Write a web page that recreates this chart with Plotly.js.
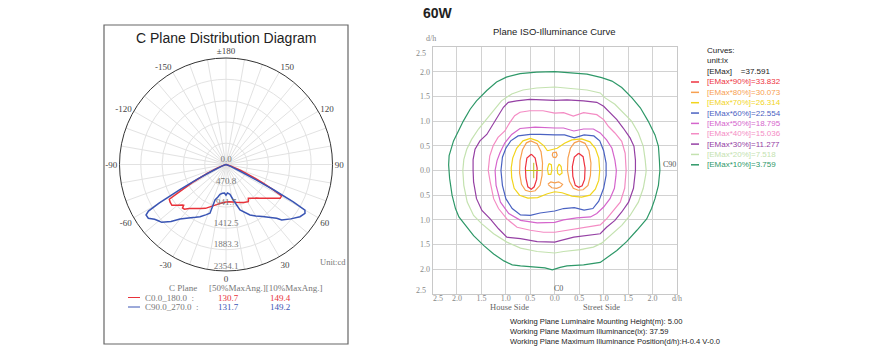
<!DOCTYPE html>
<html><head><meta charset="utf-8">
<script src="https://cdn.plot.ly/plotly-3.0.1.min.js"></script>
<style>html,body{margin:0;padding:0;background:#fff}#chart{width:894px;height:364px}</style>
</head><body><div id="chart"></div>
<script>
// ---------- Polar (C plane) data ----------
const gammaC0 = [-90,-80,-72,-68,-65,-62,-60,-58.5,-56,-53,-50,-47,-46,-45,-43,-40,-35,-30,-25,-20,-15,-10,-5,0,5,10,15,20,25,31,33.5,38,42,45,50,55,58,60.5,62,63.5,65,68,72,78,90];
const intensityC0 = [0,0,60,200,450,800,1120,1470,1490,1497,1400,1315,1300,1360,1350,1270,1190,1120,1070,990,930,880,850,830,825,840,865,895,925,958,895,950,1000,1056,1162,1303,1410,1410,1150,900,650,350,120,20,0];
const gammaC90 = [-90,-80,-70,-65,-63,-61.5,-60,-59,-57.7,-55.3,-52.5,-50.3,-48,-44,-40.2,-35,-30,-26.5,-22,-18.2,-17.2,-14,-11.4,-7,-3,0,3,7.6,11.6,17.1,25.4,30,35,40,43.3,45.1,50,54.8,58.3,60,61,62,63,65,70,80,90];
const intensityC90 = [0,0,60,300,700,1160,1700,2000,2091,2089,1990,1945,1911,1750,1576,1444,1347,1288,1200,1135,821,740,672,640,632,680,630,665,801,1052,1236,1315,1403,1530,1634,1738,1870,2001,2052,2015,1700,1200,700,300,60,0,0];
const radialTicks = [0,470.8,941.7,1412.5,1883.3,2354.1];
const radialLabels = ['0.0','470.8','941.7','1412.5','1883.3','2354.1'];
const angTickVals = [];
for (let a=0;a<360;a+=10) angTickVals.push(a);
const angLabelMap = {'0':'0','30':'30','60':'60','90':'90','120':'120','150':'150','180':'±180','210':'-150','240':'-120','270':'-90','300':'-60','330':'-30'};
const planeNames = ['C0.0_180.0  :','C90.0_270.0  :'];
const planeColors = ['#e8323a','#3a55b4'];
const halfMaxAng = ['130.7','131.7'];
const tenthMaxAng = ['149.4','149.2'];

// ---------- ISO-illuminance data (d/h units) ----------
const levelNames = ['[EMax*90%]=33.832','[EMax*80%]=30.073','[EMax*70%]=26.314','[EMax*60%]=22.554','[EMax*50%]=18.795','[EMax*40%]=15.036','[EMax*30%]=11.277','[EMax*20%]=7.518','[EMax*10%]=3.759'];
const levelColors = ['#ee3340','#f7a050','#f2d41c','#4a62c2','#d565cc','#f48cc4','#9540a4','#c4e2b0','#2e9868'];
const xTickVals = [-2,-1.5,-1,-0.5,0,0.5,1,1.5,2,2.5];
const xTickText = ['2.0','1.5','1.0','0.5','0.0','0.5','1.0','1.5','2.0','d/h'];
const yTickVals = [-2,-1.5,-1,-0.5,0,0.5,1,1.5,2];
const yTickText = ['2.0','1.5','1.0','0.5','0.0','0.5','1.0','1.5','2.0'];
const edgeLabel = '2.5';
const maxPos = [-0.43, 0.0];

const loop90a = [[-0.48,0.33],[-0.4,0.25],[-0.36,0.05],[-0.37,-0.18],[-0.42,-0.33],[-0.48,-0.38],[-0.55,-0.33],[-0.59,-0.15],[-0.6,0.05],[-0.57,0.25],[-0.48,0.33]];
const loop90b = [[0.49,0.35],[0.58,0.28],[0.62,0.05],[0.61,-0.18],[0.56,-0.31],[0.49,-0.34],[0.42,-0.3],[0.37,-0.12],[0.36,0.08],[0.4,0.27],[0.49,0.35]];
const loop80a = [[-0.49,0.6],[-0.36,0.54],[-0.28,0.38],[-0.25,0.15],[-0.26,-0.1],[-0.3,-0.3],[-0.4,-0.41],[-0.5,-0.43],[-0.6,-0.4],[-0.68,-0.28],[-0.72,-0.05],[-0.71,0.2],[-0.66,0.42],[-0.58,0.56],[-0.49,0.6]];
const loop80b = [[0.5,0.6],[0.62,0.55],[0.7,0.4],[0.74,0.15],[0.73,-0.1],[0.68,-0.3],[0.58,-0.39],[0.48,-0.4],[0.38,-0.36],[0.3,-0.22],[0.26,0.0],[0.27,0.25],[0.32,0.45],[0.4,0.56],[0.5,0.6]];
const loop80c = [[-0.04,0.36],[0.03,0.37],[0.05,0.31],[0.02,0.26],[-0.03,0.27],[-0.05,0.31],[-0.04,0.36]];
const loop80d = [[-0.14,-0.28],[-0.08,-0.23],[0.0,-0.25],[0.08,-0.23],[0.16,-0.28],[0.12,-0.33],[0.04,-0.36],[-0.06,-0.35],[-0.14,-0.28]];
const loop70a = [[-0.15,0.4],[0.05,0.45],[0.2,0.55],[0.35,0.62],[0.55,0.64],[0.72,0.58],[0.83,0.45],[0.9,0.25],[0.92,0],[0.9,-0.2],[0.83,-0.38],[0.72,-0.5],[0.55,-0.54],[0.35,-0.52],[0.15,-0.45],[0,-0.43],[-0.15,-0.47],[-0.35,-0.55],[-0.55,-0.56],[-0.72,-0.5],[-0.83,-0.36],[-0.88,-0.15],[-0.89,0.05],[-0.86,0.25],[-0.78,0.45],[-0.65,0.6],[-0.5,0.65],[-0.35,0.6],[-0.22,0.5],[-0.15,0.4]];
const loop70b = [[-0.12,0.14],[-0.07,0.12],[-0.06,0.0],[-0.08,-0.08],[-0.13,-0.08],[-0.15,0.03],[-0.12,0.14]];
const loop70c = [[0.09,0.13],[0.13,0.08],[0.15,-0.05],[0.1,-0.09],[0.06,-0.06],[0.05,0.05],[0.09,0.13]];
const loop60 = [[0,0.72],[0.2,0.72],[0.4,0.66],[0.6,0.72],[0.8,0.7],[0.92,0.6],[1.0,0.4],[1.05,0.15],[1.05,-0.1],[1.0,-0.36],[0.9,-0.62],[0.78,-0.77],[0.6,-0.8],[0.4,-0.75],[0.18,-0.77],[0,-0.82],[-0.3,-0.86],[-0.5,-0.91],[-0.7,-0.9],[-0.87,-0.77],[-1.0,-0.57],[-1.07,-0.3],[-1.1,0],[-1.07,0.27],[-1.0,0.45],[-0.9,0.6],[-0.75,0.7],[-0.5,0.73],[-0.3,0.73],[0,0.72]];
const loop50 = [[0,0.86],[0.18,0.86],[0.39,0.8],[0.59,0.84],[0.79,0.84],[0.93,0.76],[1.06,0.62],[1.17,0.45],[1.23,0.21],[1.26,0],[1.25,-0.12],[1.22,-0.36],[1.13,-0.57],[1.0,-0.74],[0.86,-0.87],[0.73,-0.94],[0.45,-0.96],[0.18,-1.0],[0,-1.05],[-0.36,-1.06],[-0.7,-1.01],[-0.94,-0.87],[-1.11,-0.64],[-1.2,-0.3],[-1.22,0],[-1.18,0.2],[-1.12,0.36],[-1.02,0.56],[-0.88,0.73],[-0.71,0.85],[-0.4,0.88],[-0.2,0.87],[0,0.86]];
const loop40 = [[0,1.16],[0.18,1.17],[0.38,1.1],[0.59,1.17],[0.86,1.13],[1.0,1.03],[1.1,0.89],[1.23,0.76],[1.37,0.59],[1.44,0.35],[1.46,0],[1.45,-0.2],[1.43,-0.36],[1.34,-0.64],[1.2,-0.81],[1.06,-0.98],[0.93,-1.1],[0.73,-1.13],[0.45,-1.17],[0.18,-1.21],[0,-1.25],[-0.23,-1.25],[-0.5,-1.21],[-0.77,-1.15],[-0.98,-0.98],[-1.15,-0.77],[-1.25,-0.57],[-1.32,-0.23],[-1.36,0],[-1.33,0.29],[-1.26,0.5],[-1.16,0.67],[-1.02,0.8],[-0.92,0.97],[-0.82,1.11],[-0.71,1.18],[-0.51,1.21],[-0.24,1.21],[0,1.16]];
const loop30 = [[0,1.42],[0.25,1.43],[0.59,1.41],[0.86,1.38],[1.0,1.3],[1.13,1.17],[1.27,1.03],[1.4,0.86],[1.54,0.66],[1.62,0.49],[1.65,0.21],[1.65,0],[1.64,-0.09],[1.61,-0.36],[1.51,-0.64],[1.37,-0.84],[1.23,-1.01],[1.06,-1.15],[0.93,-1.28],[0.66,-1.32],[0.39,-1.35],[0.11,-1.42],[0,-1.45],[-0.36,-1.44],[-0.7,-1.38],[-0.98,-1.35],[-1.15,-1.18],[-1.32,-0.98],[-1.49,-0.81],[-1.6,-0.57],[-1.66,-0.23],[-1.67,0],[-1.67,0.22],[-1.63,0.43],[-1.53,0.6],[-1.39,0.73],[-1.26,0.94],[-1.16,1.11],[-1.05,1.28],[-0.95,1.38],[-0.78,1.41],[-0.51,1.44],[-0.24,1.43],[0,1.42]];
const loop20 = [[0,1.69],[0.32,1.66],[0.66,1.63],[0.93,1.57],[1.03,1.47],[1.23,1.34],[1.4,1.17],[1.57,1.0],[1.71,0.76],[1.81,0.49],[1.85,0.21],[1.87,0],[1.86,-0.09],[1.81,-0.36],[1.71,-0.64],[1.54,-0.91],[1.37,-1.11],[1.17,-1.28],[0.96,-1.47],[0.79,-1.55],[0.52,-1.6],[0.18,-1.64],[0,-1.67],[-0.36,-1.64],[-0.7,-1.57],[-0.98,-1.45],[-1.25,-1.28],[-1.49,-1.08],[-1.66,-0.91],[-1.79,-0.64],[-1.86,-0.3],[-1.88,0],[-1.86,0.22],[-1.8,0.43],[-1.7,0.63],[-1.56,0.84],[-1.39,1.04],[-1.26,1.21],[-1.09,1.41],[-0.88,1.55],[-0.65,1.63],[-0.37,1.67],[0,1.69]];
const loop10 = [[0,2.0],[0.32,1.97],[0.66,1.95],[0.96,1.88],[1.17,1.81],[1.37,1.68],[1.58,1.47],[1.75,1.27],[1.91,1.0],[2.05,0.72],[2.12,0.49],[2.14,0.21],[2.15,0],[2.12,-0.3],[2.05,-0.57],[1.98,-0.77],[1.88,-0.98],[1.68,-1.21],[1.47,-1.44],[1.27,-1.62],[1.06,-1.78],[0.93,-1.86],[0.59,-1.91],[0.25,-1.93],[0.11,-1.96],[-0.05,-2.01],[-0.2,-1.97],[-0.36,-1.96],[-0.7,-1.93],[-0.87,-1.91],[-1.04,-1.83],[-1.25,-1.69],[-1.45,-1.52],[-1.66,-1.32],[-1.83,-1.11],[-1.96,-0.94],[-2.03,-0.77],[-2.1,-0.5],[-2.15,-0.16],[-2.17,0.11],[-2.16,0.3],[-2.12,0.45],[-2.07,0.6],[-1.97,0.8],[-1.87,1.0],[-1.73,1.24],[-1.6,1.41],[-1.39,1.62],[-1.19,1.79],[-0.99,1.89],[-0.71,1.96],[-0.37,1.99],[-0.17,2.0],[0,2.0]];
const loopsByLevel = [[loop90a,loop90b],[loop80a,loop80b,loop80c,loop80d],[loop70a,loop70b,loop70c],[loop60],[loop50],[loop40],[loop30],[loop20],[loop10]];

// ---------- build ----------
const W=894,H=364;
const px = x => x/W, py = y => 1 - y/H;
const serif = 'Liberation Serif, DejaVu Serif, serif';
const sans = 'Liberation Sans, Arial, sans-serif';

const traces = [];
traces.push({type:'scatterpolar', r:intensityC0, theta:gammaC0, mode:'lines', line:{color:planeColors[0],width:1.5}, showlegend:false, hoverinfo:'skip', subplot:'polar'});
traces.push({type:'scatterpolar', r:intensityC90, theta:gammaC90, mode:'lines', line:{color:planeColors[1],width:1.5}, showlegend:false, hoverinfo:'skip', subplot:'polar'});
traces.push({type:'scatterpolar', r:radialTicks, theta:radialTicks.map(()=>0), mode:'text', text:radialLabels, textposition:'top center', textfont:{family:serif,size:9,color:'#777'}, showlegend:false, hoverinfo:'skip', subplot:'polar', cliponaxis:false});

loopsByLevel.forEach((loops,i)=>{
  loops.forEach(lp=>{
    traces.push({type:'scatter', x:lp.map(p=>p[0]), y:lp.map(p=>p[1]), mode:'lines', line:{color:levelColors[i],width:1.2}, showlegend:false, hoverinfo:'skip', xaxis:'x', yaxis:'y'});
  });
});
traces.push({type:'scatter', x:[maxPos[0]], y:[maxPos[1]], mode:'markers', marker:{symbol:'cross-thin-open',size:11,line:{color:'#444',width:1}}, showlegend:false, hoverinfo:'skip'});

const annotations = [];
function txt(text,x,y,opts){ annotations.push(Object.assign({text:text,x:px(x),y:py(y),xref:'paper',yref:'paper',showarrow:false,xanchor:'left',yanchor:'middle',font:{family:sans,size:8,color:'#222'}},opts||{})); }
txt('<b>60W</b>',438,13,{xanchor:'center',font:{family:sans,size:14,color:'#222'}});
txt('C Plane Distribution Diagram',226,38,{xanchor:'center',font:{family:sans,size:14,color:'#222'}});
txt('Plane ISO-Illuminance Curve',554.5,31,{xanchor:'center',font:{family:sans,size:9.5,color:'#222'}});
txt('Unit:cd',318,262,{font:{family:serif,size:8.5,color:'#777'}});
txt('C Plane',167,288,{font:{family:serif,size:9,color:'#777'}});
txt('[50%MaxAng.][10%MaxAng.]',207,288,{font:{family:serif,size:9,color:'#777'}});
const legendRowY=[297.5,307];
const shapes=[];
planeNames.forEach((n,i)=>{
  shapes.push({type:'line',xref:'paper',yref:'paper',x0:px(128),x1:px(140),y0:py(legendRowY[i]),y1:py(legendRowY[i]),line:{color:planeColors[i],width:1}});
  txt(n,143,legendRowY[i],{font:{family:serif,size:9,color:'#777'}});
  txt(halfMaxAng[i],228,legendRowY[i],{xanchor:'center',font:{family:serif,size:9,color:planeColors[i]}});
  txt(tenthMaxAng[i],280,legendRowY[i],{xanchor:'center',font:{family:serif,size:9,color:planeColors[i]}});
});
shapes.push({type:'rect',xref:'paper',yref:'paper',x0:px(104),x1:px(348),y0:py(25),y1:py(344),line:{color:'#666',width:1.2}});

// ISO plot texts (edge tick labels sit just inside the frame, as in the reference)
const tickFont = {family:serif,size:8,color:'#888'};
txt('d/h',431,39,{xanchor:'center',font:tickFont});
txt(edgeLabel,428,53,{xanchor:'right',font:tickFont});
txt(edgeLabel,428,290,{xanchor:'right',font:tickFont});
txt(edgeLabel,438,298,{xanchor:'center',font:tickFont});
txt('C90',669,165,{xanchor:'center',font:{family:serif,size:8,color:'#555'}});
txt('C0',558,288,{xanchor:'center',font:{family:serif,size:8,color:'#555'}});
txt('House Side',510,307,{xanchor:'center',font:{family:serif,size:8.5,color:'#666'}});
txt('Street Side',601,307,{xanchor:'center',font:{family:serif,size:8.5,color:'#666'}});
txt('Curves:',705,51);
txt('unit:lx',705,61);
txt('[EMax]\u00a0\u00a0\u00a0\u00a0=37.591',705,71.5);
levelNames.forEach((n,i)=>{
  const y = 82 + i*10.35;
  shapes.push({type:'line',xref:'paper',yref:'paper',x0:px(691),x1:px(699),y0:py(y),y1:py(y),line:{color:levelColors[i],width:1.5}});
  txt(n,705,y,{font:{family:sans,size:8,color:levelColors[i]}});
});
txt('Working Plane Luminaire Mounting Height(m): 5.00',508,321,{font:{family:sans,size:7.6,color:'#222'}});
txt('Working Plane Maximum Illuminance(lx): 37.59',508,331.5,{font:{family:sans,size:7.6,color:'#222'}});
txt('Working Plane Maximum Illuminance Position(d/h):H-0.4 V-0.0',508,341.5,{font:{family:sans,size:7.6,color:'#222'}});

const layout = {
  width:W, height:H, margin:{l:0,r:0,t:0,b:0}, paper_bgcolor:'#fff', plot_bgcolor:'#fff', showlegend:false,
  polar:{
    domain:{x:[px(119.5),px(332.5)], y:[py(271),py(58)]},
    bgcolor:'#fff',
    angularaxis:{rotation:-90, direction:'counterclockwise', tickmode:'array', tickvals:angTickVals,
      ticktext:angTickVals.map(v=>angLabelMap[String(v)]||''), showline:true, linecolor:'#333', linewidth:1,
      gridcolor:'#e2e2e2', ticks:'', tickfont:{family:serif,size:9,color:'#444'}},
    radialaxis:{range:[0,2354.1], tickmode:'array', tickvals:radialTicks.slice(1), showticklabels:false, showline:false, ticks:'', gridcolor:'#e2e2e2', angle:-90}
  },
  xaxis:{domain:[px(432.5),px(677)], range:[-2.5,2.5], tickmode:'array', tickvals:xTickVals, ticktext:xTickText, showgrid:true, gridcolor:'#d2d2d2', zeroline:false, showline:true, mirror:true, linecolor:'#c8c8c8', ticks:'', ticklabelstandoff:-4, tickfont:tickFont, anchor:'y', fixedrange:true},
  yaxis:{domain:[py(294),py(47)], range:[-2.5,2.5], tickmode:'array', tickvals:yTickVals, ticktext:yTickText, showgrid:true, gridcolor:'#d2d2d2', zeroline:false, showline:true, mirror:true, linecolor:'#c8c8c8', ticks:'', tickfont:tickFont, anchor:'x', fixedrange:true},
  annotations:annotations, shapes:shapes
};
Plotly.newPlot('chart', traces, layout, {staticPlot:true});
</script></body></html>
